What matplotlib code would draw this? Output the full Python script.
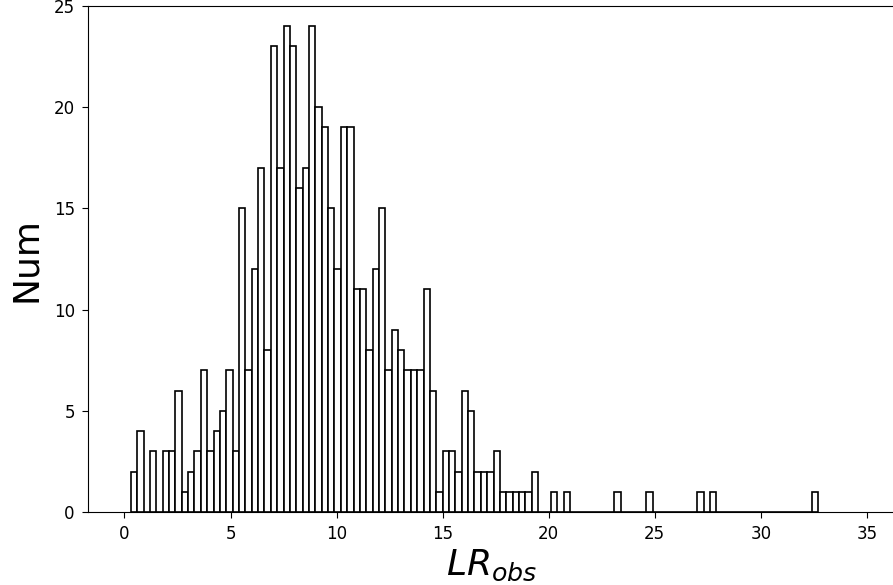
import numpy as np
import matplotlib
matplotlib.use("Agg")
import matplotlib.pyplot as plt

# histogram bins: 108 bins of width 0.3 starting at 0.3
bin_lo = 0.30
bin_hi = 32.70
n_bins = 108

# counts per bin
counts_a = [2, 4, 0, 3, 0, 3, 3, 6, 1, 2, 3, 7, 3, 4, 5, 7, 3, 15, 7]
counts_b = [12, 17, 8, 23, 17, 24, 23, 16, 17, 24, 20, 19, 15, 12, 19, 19, 11, 11, 8]
counts_c = [12, 15, 7, 9, 8, 7, 7, 7, 11, 6, 1, 3, 3, 2, 6, 5, 2, 2, 2]
counts_d = [3, 1, 1, 1, 1, 1, 2, 0, 0, 1, 0, 1]
# isolated single counts in the tail (bin index -> count)
tail_bins = [76, 81, 89, 91, 107]
tail_counts = [1, 1, 1, 1, 1]

counts = np.zeros(n_bins)
head = counts_a + counts_b + counts_c + counts_d
counts[:len(head)] = head
for b, c in zip(tail_bins, tail_counts):
    counts[b] = c

edges = np.linspace(bin_lo, bin_hi, n_bins + 1)

fig = plt.figure(figsize=(8.93, 5.85), dpi=100)
ax = fig.add_axes([88 / 893, (585 - 512) / 585, (893 - 88) / 893 + 0.003, (512 - 6) / 585])

ax.hist(edges[:-1], bins=edges, weights=counts, facecolor='white',
        edgecolor='black', linewidth=1.2)

ax.set_xlim(-1.72, 36.36)
ax.set_ylim(0, 25)
ax.set_xticks([0, 5, 10, 15, 20, 25, 30, 35])
ax.set_yticks([0, 5, 10, 15, 20, 25])
ax.tick_params(labelsize=12, length=4.5, pad=5)
ax.set_xlabel(r'$LR_{obs}$', fontsize=26, labelpad=3)
ax.set_ylabel('Num', fontsize=26, labelpad=8)

fig.savefig('out.png', dpi=100)
